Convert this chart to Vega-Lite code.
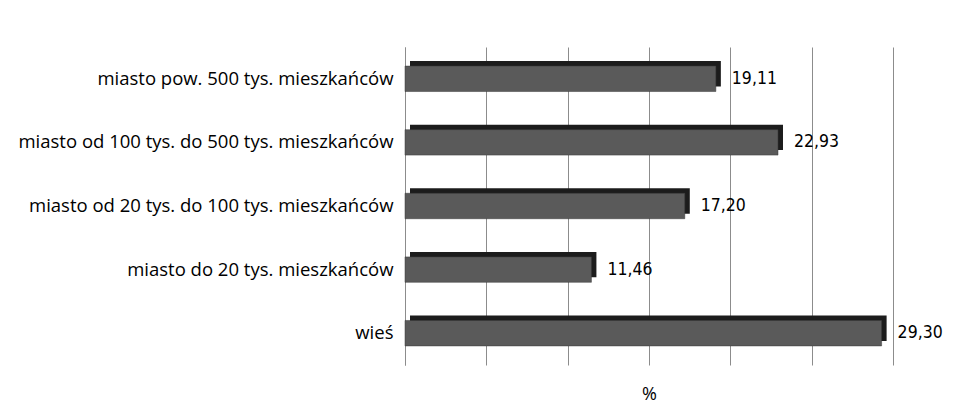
{
  "$schema": "https://vega.github.io/schema/vega-lite/v6.json",
  "width": 488,
  "height": 318,
  "autosize": {"type": "none"},
  "padding": {"left": 405, "top": 47, "right": 64, "bottom": 51},
  "background": "white",
  "config": {
    "view": {"stroke": null},
    "locale": {"number": {"decimal": ",", "thousands": " ", "grouping": [3], "currency": ["", " zł"]}},
    "font": "Open Sans"
  },
  "data": {"values": [
    {"kategoria": "miasto pow. 500 tys. mieszkańców", "procent": 19.11},
    {"kategoria": "miasto od 100 tys. do 500 tys. mieszkańców", "procent": 22.93},
    {"kategoria": "miasto od 20 tys. do 100 tys. mieszkańców", "procent": 17.20},
    {"kategoria": "miasto do 20 tys. mieszkańców", "procent": 11.46},
    {"kategoria": "wieś", "procent": 29.30}
  ]},
  "encoding": {
    "y": {"field": "kategoria", "type": "nominal", "sort": null,
      "scale": {"paddingInner": 0.6, "paddingOuter": 0.3},
      "axis": {"title": null, "domain": true, "domainColor": "#8c8c8c", "ticks": false, "labelPadding": 12, "labelFontSize": 18.5, "labelColor": "#000", "labelFont": "Open Sans", "labelLimit": 420}},
    "x": {"field": "procent", "type": "quantitative",
      "scale": {"domain": [0, 30], "nice": false},
      "axis": {"title": "%", "titleFontSize": 18, "titleFontWeight": "normal", "titleColor": "#000", "titlePadding": 20, "values": [0, 5, 10, 15, 20, 25, 30], "labels": false, "ticks": false, "domain": false, "grid": true, "gridColor": "#8c8c8c", "gridWidth": 1}}
  },
  "layer": [
    {"mark": {"type": "bar", "color": "#1c1c1c", "xOffset": 5, "yOffset": -5, "cornerRadius": 0}},
    {"mark": {"type": "bar", "color": "#5a5a5a", "stroke": "#3a3a3a", "strokeWidth": 0.5}},
    {"mark": {"type": "text", "align": "left", "baseline": "middle", "dx": 16, "fontSize": 17.5, "color": "#000", "font": "DejaVu Sans Condensed"},
     "encoding": {"text": {"field": "procent", "type": "quantitative", "format": ".2f"}}}
  ]
}
